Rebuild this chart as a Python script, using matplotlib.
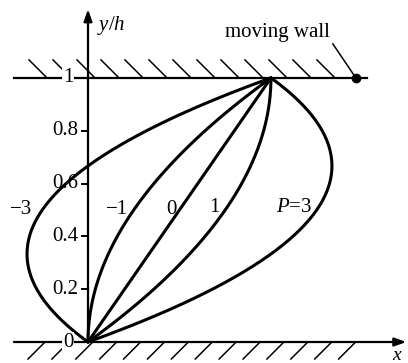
import matplotlib.pyplot as plt
import numpy as np

plt.rcParams['font.family'] = 'Liberation Serif'
plt.rcParams['mathtext.fontset'] = 'custom'
plt.rcParams['mathtext.rm'] = 'Liberation Serif'
plt.rcParams['mathtext.it'] = 'Liberation Serif:italic'

# pressure-gradient parameter for each velocity profile
P_values = [-3, -1, 0, 1, 3]
P_labels = ['\u22123', '\u22121', '0', '1', '$P$=3']
label_x = [-0.366, 0.158, 0.454, 0.689, 1.126]
label_y = [0.5, 0.5, 0.5, 0.51, 0.51]

y_ticks = [0.2, 0.4, 0.6, 0.8]

fig = plt.figure(figsize=(4.08, 3.63), dpi=100)
ax = fig.add_axes([0, 0, 1, 1])
ax.set_xlim(-0.481, 1.749)
ax.set_ylim(-0.0795, 1.295)
ax.axis('off')

# Couette-Poiseuille profiles: u/U = y/h + P (y/h)(1 - y/h)
eta = np.linspace(0, 1, 200)
for P in P_values:
    u = eta + P * eta * (1 - eta)
    ax.plot(u, eta, color='black', lw=2.2, solid_capstyle='round', zorder=3)

for txt, lx, ly in zip(P_labels, label_x, label_y):
    ax.text(lx, ly, txt, fontsize=15, ha='center', va='center')

px, py = 1 / 183, 1 / 264  # size of one pixel in data units

# top (moving) wall with hatching
ax.plot([-0.405, 1.525], [1, 1], color='black', lw=1.6)
for xb in np.arange(-41, 260, 24) * px:
    ax.plot([xb - 18 * px, xb], [1 + 18 * py, 1], color='black', lw=1.1)
dot_x = 1.464
ax.plot([dot_x, dot_x - 23 * px], [1, 1 + 34 * py], color='black', lw=1.1)
ax.plot(dot_x, 1, 'o', color='black', ms=6)
ax.text(1.033, 1.172, 'moving wall', fontsize=15, ha='center', va='center')

# bottom wall / x axis
ax.annotate('', xy=(1.74, 0), xytext=(-0.405, 0),
            arrowprops=dict(arrowstyle='-|>,head_length=0.7,head_width=0.25',
                            color='black', lw=1.6, shrinkA=0, shrinkB=0))
for xt in np.arange(-43, 270, 23.9) * px:
    ax.plot([xt - 17 * px, xt], [-17 * py, 0], color='black', lw=1.1)
ax.text(1.69, -0.068, '$x$', fontsize=14, ha='center', va='baseline')

# y axis
ax.annotate('', xy=(0, 1.26), xytext=(0, 0),
            arrowprops=dict(arrowstyle='-|>,head_length=0.7,head_width=0.25',
                            color='black', lw=1.6, shrinkA=0, shrinkB=0))
ax.text(0.128, 1.2, '$y/h$', fontsize=15, ha='center', va='center')

for t in y_ticks:
    ax.plot([-6 * px, 0], [t, t], color='black', lw=1.4)
    ax.text(-10 * px, t, f'{t:.1f}', fontsize=15, ha='right', va='center')
for t in [0, 1]:
    ax.text(-20 * px, t, str(t), fontsize=15, ha='center', va='center',
            bbox=dict(facecolor='white', edgecolor='none', pad=0.5))

fig.savefig('out.png', dpi=100)
